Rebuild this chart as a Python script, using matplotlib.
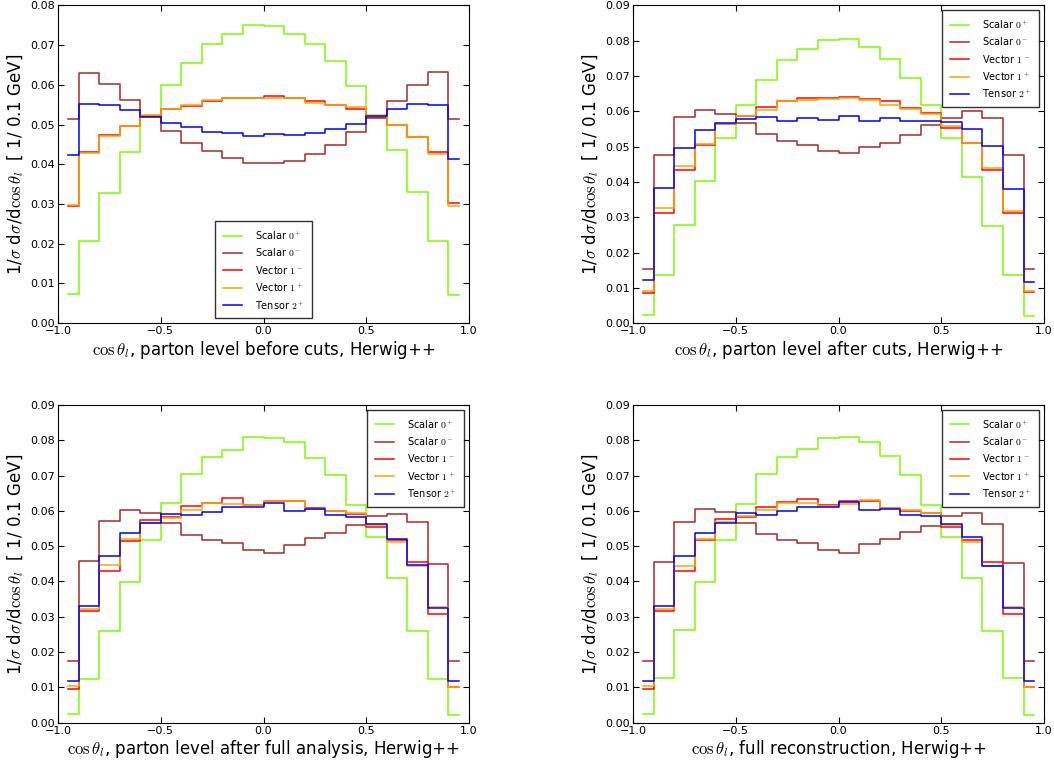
import numpy as np
import matplotlib
matplotlib.use('Agg')
import matplotlib.pyplot as plt
from matplotlib.ticker import FuncFormatter

plt.rcParams['mathtext.fontset'] = 'cm'
plt.rcParams['xtick.direction'] = 'in'
plt.rcParams['ytick.direction'] = 'in'
plt.rcParams['xtick.top'] = True
plt.rcParams['ytick.right'] = True

# bin centres of cos(theta_l), 20 bins of width 0.1
bin_centres = np.round(np.arange(-0.95, 1.0, 0.1), 2)

labels = [r'Scalar $0^+$', r'Scalar $0^-$', r'Vector $1^-$', r'Vector $1^+$', r'Tensor $2^+$']
colors = ['lawngreen', 'brown', 'red', 'orange', 'blue']

# parton level before cuts
before_scalar_p = [0.0074, 0.0208, 0.0327, 0.0430, 0.0522, 0.0600, 0.0655, 0.0702, 0.0728, 0.0751,
                   0.0749, 0.0728, 0.0702, 0.0659, 0.0598, 0.0524, 0.0437, 0.0329, 0.0208, 0.0072]
before_scalar_m = [0.0513, 0.0630, 0.0603, 0.0562, 0.0522, 0.0484, 0.0453, 0.0433, 0.0416, 0.0402,
                   0.0403, 0.0409, 0.0425, 0.0449, 0.0480, 0.0516, 0.0560, 0.0599, 0.0631, 0.0513]
before_vector_m = [0.0296, 0.0430, 0.0473, 0.0497, 0.0521, 0.0538, 0.0547, 0.0558, 0.0567, 0.0568,
                   0.0571, 0.0566, 0.0560, 0.0550, 0.0539, 0.0518, 0.0500, 0.0469, 0.0432, 0.0303]
before_vector_p = [0.0298, 0.0429, 0.0471, 0.0497, 0.0523, 0.0538, 0.0548, 0.0562, 0.0568, 0.0568,
                   0.0567, 0.0566, 0.0555, 0.0550, 0.0543, 0.0521, 0.0500, 0.0469, 0.0427, 0.0296]
before_tensor_p = [0.0423, 0.0551, 0.0550, 0.0536, 0.0520, 0.0503, 0.0494, 0.0481, 0.0478, 0.0471,
                   0.0475, 0.0473, 0.0479, 0.0490, 0.0502, 0.0521, 0.0539, 0.0552, 0.0548, 0.0414]

# parton level after cuts
cuts_scalar_p = [0.0022, 0.0135, 0.0278, 0.0404, 0.0523, 0.0618, 0.0690, 0.0745, 0.0776, 0.0802,
                 0.0806, 0.0781, 0.0749, 0.0695, 0.0617, 0.0524, 0.0414, 0.0274, 0.0135, 0.0021]
cuts_scalar_m = [0.0153, 0.0475, 0.0585, 0.0604, 0.0592, 0.0567, 0.0535, 0.0517, 0.0505, 0.0487,
                 0.0483, 0.0499, 0.0511, 0.0532, 0.0562, 0.0582, 0.0601, 0.0582, 0.0476, 0.0153]
cuts_vector_m = [0.0085, 0.0312, 0.0435, 0.0505, 0.0565, 0.0588, 0.0611, 0.0628, 0.0638, 0.0637,
                 0.0640, 0.0634, 0.0629, 0.0610, 0.0594, 0.0553, 0.0510, 0.0435, 0.0313, 0.0087]
cuts_vector_p = [0.0090, 0.0326, 0.0444, 0.0508, 0.0563, 0.0588, 0.0605, 0.0628, 0.0633, 0.0634,
                 0.0637, 0.0632, 0.0619, 0.0607, 0.0591, 0.0557, 0.0510, 0.0439, 0.0319, 0.0090]
cuts_tensor_p = [0.0121, 0.0383, 0.0496, 0.0548, 0.0566, 0.0577, 0.0585, 0.0572, 0.0582, 0.0575,
                 0.0586, 0.0572, 0.0582, 0.0572, 0.0573, 0.0569, 0.0549, 0.0503, 0.0381, 0.0118]

# parton level after full analysis
full_scalar_p = [0.0024, 0.0125, 0.0261, 0.0398, 0.0517, 0.0621, 0.0704, 0.0752, 0.0772, 0.0809,
                 0.0807, 0.0794, 0.0751, 0.0702, 0.0616, 0.0526, 0.0409, 0.0259, 0.0125, 0.0021]
full_scalar_m = [0.0175, 0.0457, 0.0572, 0.0603, 0.0595, 0.0566, 0.0533, 0.0517, 0.0509, 0.0488,
                 0.0480, 0.0503, 0.0522, 0.0538, 0.0561, 0.0585, 0.0592, 0.0568, 0.0450, 0.0175]
full_vector_m = [0.0096, 0.0317, 0.0429, 0.0515, 0.0574, 0.0583, 0.0613, 0.0623, 0.0637, 0.0616,
                 0.0628, 0.0627, 0.0608, 0.0599, 0.0592, 0.0553, 0.0517, 0.0454, 0.0307, 0.0102]
full_vector_p = [0.0104, 0.0322, 0.0446, 0.0519, 0.0566, 0.0581, 0.0602, 0.0621, 0.0619, 0.0617,
                 0.0627, 0.0628, 0.0605, 0.0600, 0.0593, 0.0559, 0.0511, 0.0443, 0.0328, 0.0102]
full_tensor_p = [0.0119, 0.0330, 0.0473, 0.0536, 0.0566, 0.0590, 0.0589, 0.0596, 0.0610, 0.0611,
                 0.0623, 0.0600, 0.0604, 0.0588, 0.0583, 0.0564, 0.0521, 0.0448, 0.0324, 0.0118]

# full reconstruction
reco_scalar_p = [0.0025, 0.0126, 0.0262, 0.0398, 0.0517, 0.0620, 0.0703, 0.0753, 0.0775, 0.0807,
                 0.0809, 0.0795, 0.0754, 0.0701, 0.0617, 0.0527, 0.0411, 0.0260, 0.0126, 0.0022]
reco_scalar_m = [0.0176, 0.0456, 0.0569, 0.0604, 0.0597, 0.0567, 0.0534, 0.0517, 0.0510, 0.0489,
                 0.0482, 0.0506, 0.0519, 0.0540, 0.0558, 0.0586, 0.0595, 0.0564, 0.0451, 0.0176]
reco_vector_m = [0.0096, 0.0316, 0.0430, 0.0517, 0.0576, 0.0584, 0.0612, 0.0626, 0.0634, 0.0618,
                 0.0629, 0.0628, 0.0609, 0.0601, 0.0593, 0.0553, 0.0517, 0.0454, 0.0308, 0.0102]
reco_vector_p = [0.0104, 0.0323, 0.0445, 0.0519, 0.0569, 0.0585, 0.0602, 0.0621, 0.0623, 0.0614,
                 0.0620, 0.0631, 0.0607, 0.0602, 0.0594, 0.0560, 0.0513, 0.0445, 0.0329, 0.0102]
reco_tensor_p = [0.0119, 0.0331, 0.0472, 0.0537, 0.0565, 0.0594, 0.0587, 0.0599, 0.0610, 0.0610,
                 0.0625, 0.0602, 0.0604, 0.0588, 0.0585, 0.0564, 0.0525, 0.0445, 0.0324, 0.0119]

panels = [
    ([before_scalar_p, before_scalar_m, before_vector_m, before_vector_p, before_tensor_p],
     'parton level before cuts', 0.08, 'lower center'),
    ([cuts_scalar_p, cuts_scalar_m, cuts_vector_m, cuts_vector_p, cuts_tensor_p],
     'parton level after cuts', 0.09, 'upper right'),
    ([full_scalar_p, full_scalar_m, full_vector_m, full_vector_p, full_tensor_p],
     'parton level after full analysis', 0.09, 'upper right'),
    ([reco_scalar_p, reco_scalar_m, reco_vector_m, reco_vector_p, reco_tensor_p],
     'full reconstruction', 0.09, 'upper right'),
]

# axes positions in figure fraction [left, bottom, width, height]
positions = [[0.055, 0.577, 0.390, 0.416],
             [0.6006, 0.577, 0.390, 0.416],
             [0.055, 0.054, 0.390, 0.416],
             [0.6006, 0.054, 0.390, 0.416]]


def fmt(decimals):
    return FuncFormatter(lambda v, pos: '{:.{}f}'.format(v, decimals).replace('-', '\u2212'))


fig = plt.figure(figsize=(10.54, 7.64), dpi=100)
fig.patch.set_facecolor('white')

for (series, desc, ymax, loc), pos in zip(panels, positions):
    ax = fig.add_axes(pos)
    for vals, lab, col in zip(series, labels, colors):
        ax.plot(bin_centres, vals, drawstyle='steps-mid', color=col, lw=1.1, label=lab)
    ax.set_xlim(-1.0, 1.0)
    ax.set_ylim(0.0, ymax)
    ax.set_xticks([-1.0, -0.5, 0.0, 0.5, 1.0])
    ax.set_yticks(np.arange(0, ymax + 0.001, 0.01))
    ax.xaxis.set_major_formatter(fmt(1))
    ax.yaxis.set_major_formatter(fmt(2))
    ax.tick_params(labelsize=8, pad=2, length=4)
    ax.set_xlabel(r'$\cos\theta_l$, ' + desc + ', Herwig++', fontsize=12, labelpad=2)
    ax.set_ylabel(r'1/$\sigma$ d$\sigma$/d$\cos\theta_l$  [ 1/ 0.1 GeV]', fontsize=12, labelpad=3)
    leg = ax.legend(loc=loc, fontsize=7, fancybox=False, handlelength=2.0,
                    handletextpad=1.3, labelspacing=0.55, borderpad=0.8)
    leg.get_frame().set_edgecolor('black')
    leg.get_frame().set_linewidth(1.0)

plt.savefig('out.png', dpi=100)
